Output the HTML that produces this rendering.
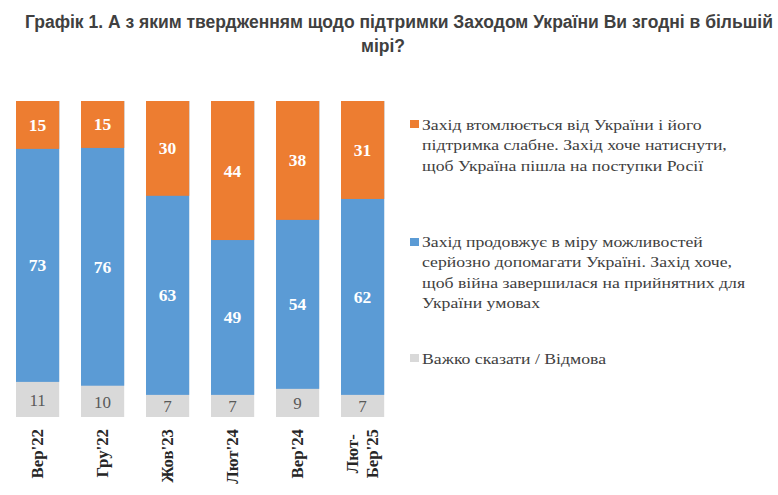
<!DOCTYPE html>
<html><head><meta charset="utf-8">
<style>
html,body{margin:0;padding:0;}
body{width:778px;height:495px;background:#fff;position:relative;overflow:hidden;}
.t{position:absolute;font:bold 17.5px/24px "Liberation Sans",sans-serif;color:#404040;white-space:nowrap;}
.bar{position:absolute;width:43.2px;}
.vl{position:absolute;width:43.2px;height:0;text-align:center;font-family:"Liberation Serif",serif;}
.vl.w{color:#fff;font-weight:bold;font-size:17.5px;line-height:20px;margin-top:-10px;height:20px;}
.vl.g{color:#595959;font-size:17px;line-height:20px;margin-top:-8.7px;height:20px;}
.xl{position:absolute;top:428.7px;width:0;height:0;transform:rotate(-90deg);transform-origin:0 0;}
.xl div{position:absolute;right:0;top:0;transform:translateY(-50%);line-height:19px;text-align:center;white-space:nowrap;font:bold 16.8px "Liberation Serif",serif;color:#262626;}
.lg{position:absolute;left:410px;}
.lg .sq{position:absolute;left:0;width:8.5px;height:8px;}
.lg .tx{position:absolute;left:12px;top:2px;font:15.5px/20.4px "Liberation Serif",serif;transform:scaleX(1.142);transform-origin:0 0;color:#404040;white-space:nowrap;}
</style></head><body>
<div class="t" style="left:25px;top:10px">Графік 1. А з яким твердженням щодо підтримки Заходом України Ви згодні в більшій</div>
<div class="t" style="left:361px;top:34px">мірі?</div>
<svg width="778" height="495" style="position:absolute;left:0;top:0" shape-rendering="geometricPrecision"><rect x="16" y="101.0" width="43.2" height="316.0" fill="#D9D9D9"/><rect x="16" y="101.0" width="43.2" height="280.89" fill="#5B9BD5"/><rect x="16" y="101.0" width="43.2" height="47.88" fill="#ED7D31"/><rect x="81" y="101.0" width="43.2" height="316.0" fill="#D9D9D9"/><rect x="81" y="101.0" width="43.2" height="284.71" fill="#5B9BD5"/><rect x="81" y="101.0" width="43.2" height="46.93" fill="#ED7D31"/><rect x="146" y="101.0" width="43.2" height="316.0" fill="#D9D9D9"/><rect x="146" y="101.0" width="43.2" height="293.88" fill="#5B9BD5"/><rect x="146" y="101.0" width="43.2" height="94.80" fill="#ED7D31"/><rect x="211" y="101.0" width="43.2" height="316.0" fill="#D9D9D9"/><rect x="211" y="101.0" width="43.2" height="293.88" fill="#5B9BD5"/><rect x="211" y="101.0" width="43.2" height="139.04" fill="#ED7D31"/><rect x="276" y="101.0" width="43.2" height="316.0" fill="#D9D9D9"/><rect x="276" y="101.0" width="43.2" height="287.84" fill="#5B9BD5"/><rect x="276" y="101.0" width="43.2" height="118.89" fill="#ED7D31"/><rect x="341" y="101.0" width="43.2" height="316.0" fill="#D9D9D9"/><rect x="341" y="101.0" width="43.2" height="293.88" fill="#5B9BD5"/><rect x="341" y="101.0" width="43.2" height="97.96" fill="#ED7D31"/></svg>
<div class="vl w" style="left:16px;top:124.94px">15</div>
<div class="vl w" style="left:16px;top:265.38px">73</div>
<div class="vl g" style="left:16px;top:399.44px">11</div>
<div class="xl" style="left:37.6px"><div>Вер'22</div></div>
<div class="vl w" style="left:81px;top:124.47px">15</div>
<div class="vl w" style="left:81px;top:266.82px">76</div>
<div class="vl g" style="left:81px;top:401.36px">10</div>
<div class="xl" style="left:102.6px"><div>Гру'22</div></div>
<div class="vl w" style="left:146px;top:148.40px">30</div>
<div class="vl w" style="left:146px;top:295.34px">63</div>
<div class="vl g" style="left:146px;top:405.94px">7</div>
<div class="xl" style="left:167.6px"><div>Жов'23</div></div>
<div class="vl w" style="left:211px;top:170.52px">44</div>
<div class="vl w" style="left:211px;top:317.46px">49</div>
<div class="vl g" style="left:211px;top:405.94px">7</div>
<div class="xl" style="left:232.6px"><div>Лют'24</div></div>
<div class="vl w" style="left:276px;top:160.45px">38</div>
<div class="vl w" style="left:276px;top:304.37px">54</div>
<div class="vl g" style="left:276px;top:402.92px">9</div>
<div class="xl" style="left:297.6px"><div>Вер'24</div></div>
<div class="vl w" style="left:341px;top:149.98px">31</div>
<div class="vl w" style="left:341px;top:296.92px">62</div>
<div class="vl g" style="left:341px;top:405.94px">7</div>
<div class="xl" style="left:362.6px"><div>Лют-<br>Бер'25</div></div>
<div class="lg" style="top:113px"><div class="sq" style="top:6.7px;background:#ED7D31"></div><div class="tx">Захід втомлюється від України і його<br>підтримка слабне. Захід хоче натиснути,<br>щоб Україна пішла на поступки Росії</div></div>
<div class="lg" style="top:230px"><div class="sq" style="top:7.5px;background:#5B9BD5"></div><div class="tx">Захід продовжує в міру можливостей<br>серйозно допомагати Україні. Захід хоче,<br>щоб війна завершилася на прийнятних для<br>України умовах</div></div>
<div class="lg" style="top:347px"><div class="sq" style="top:7px;background:#D9D9D9"></div><div class="tx">Важко сказати / Відмова</div></div>
</body></html>
